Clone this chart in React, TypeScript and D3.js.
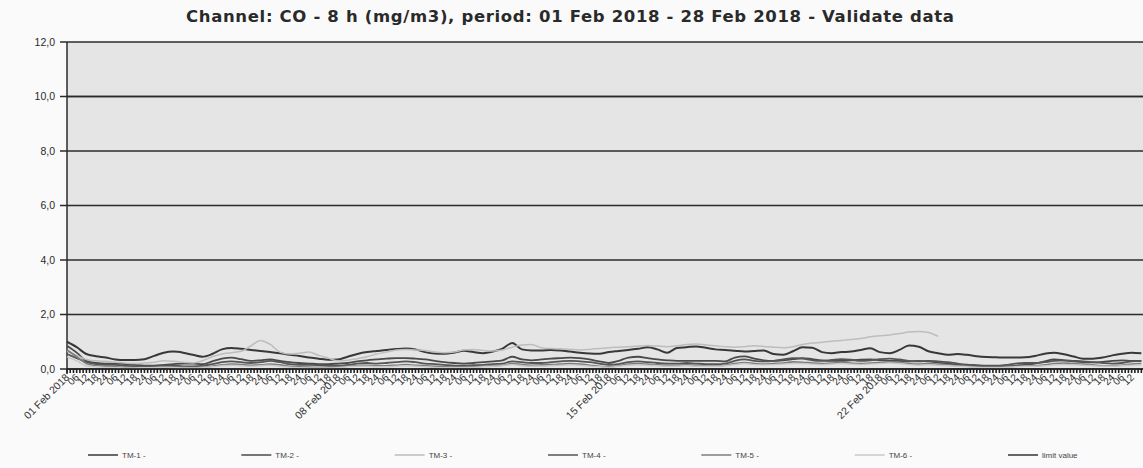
import React from "react";
import * as d3 from "d3";

// 8h rolling CO, one reading every 6 hours starting 01 Feb 2018 00:00
const START = new Date(2018, 1, 1, 0, 0);
const END = new Date(2018, 2, 1, 0, 0);
const STEP_HOURS = 6;

const TM1 = [
  1.0, 0.8, 0.55, 0.47, 0.42, 0.35, 0.33, 0.33, 0.36, 0.48, 0.6, 0.64, 0.6, 0.52, 0.45, 0.55,
  0.72, 0.77, 0.74, 0.7, 0.66, 0.62, 0.58, 0.52, 0.48, 0.42, 0.38, 0.34, 0.35, 0.45, 0.55, 0.62,
  0.66, 0.7, 0.73, 0.75, 0.72, 0.62, 0.57, 0.56, 0.6, 0.67, 0.62, 0.58, 0.64, 0.75, 0.95, 0.72,
  0.68, 0.68, 0.7, 0.68, 0.64, 0.6, 0.57, 0.56, 0.62, 0.66, 0.7, 0.74, 0.8, 0.72, 0.6, 0.77,
  0.8, 0.83, 0.78, 0.72, 0.7, 0.67, 0.64, 0.66, 0.68, 0.55, 0.52, 0.65, 0.8, 0.78, 0.62, 0.58,
  0.62, 0.64, 0.7, 0.76, 0.62, 0.58, 0.7, 0.86, 0.82, 0.65, 0.58, 0.52, 0.55, 0.52, 0.47, 0.44,
  0.43, 0.42, 0.42, 0.43, 0.48, 0.56, 0.6, 0.54, 0.46, 0.38, 0.38, 0.42, 0.5, 0.56, 0.6, 0.58,
];
const TM2 = [
  0.85, 0.6, 0.3, 0.22, 0.2, 0.2, 0.18, 0.15, 0.12, 0.12, 0.15, 0.18, 0.2, 0.2, 0.18, 0.28,
  0.38, 0.42, 0.36, 0.3, 0.32, 0.35, 0.3, 0.25, 0.22, 0.2, 0.18, 0.18, 0.2, 0.22, 0.28, 0.32,
  0.35, 0.38, 0.4, 0.4, 0.38, 0.35, 0.3, 0.25, 0.22, 0.2, 0.22, 0.25, 0.28, 0.32, 0.45, 0.35,
  0.32, 0.35, 0.38, 0.4, 0.42, 0.4, 0.35, 0.28, 0.22, 0.3, 0.42, 0.45, 0.4, 0.35, 0.32, 0.3,
  0.3, 0.3, 0.3, 0.3, 0.28, 0.42, 0.46, 0.38, 0.32, 0.3, 0.32, 0.36, 0.4, 0.36, 0.32, 0.3,
  0.3, 0.32, 0.34, 0.35, 0.32, 0.3, 0.3, 0.28, 0.3, 0.28, 0.24, 0.2, 0.15, 0.12, 0.1, 0.1,
  0.1, 0.1, 0.12, 0.15, 0.2, 0.28, 0.35, 0.32, 0.28, 0.25, 0.24, 0.26, 0.3, 0.32, 0.3, 0.3,
];
const TM3 = [
  0.65, 0.5, 0.35, 0.3, 0.28, 0.25, 0.22, 0.2, 0.22, 0.25, 0.3, 0.28, 0.25, 0.22, 0.3, 0.45,
  0.55, 0.6, 0.65, 0.85, 1.05, 0.9, 0.62, 0.55, 0.58, 0.62, 0.5, 0.4, 0.3, 0.32, 0.38, 0.45,
  0.55, 0.62, 0.7, 0.72, 0.7, 0.68, 0.62, 0.6, 0.62, 0.7, 0.72, 0.68, 0.66, 0.7, 0.8, 0.88,
  0.9, 0.78, 0.75, 0.74, 0.72, 0.7, 0.72, 0.75, 0.78, 0.8, 0.82, 0.84, 0.86, 0.84, 0.82, 0.85,
  0.9, 0.92, 0.88, 0.85, 0.82, 0.8, 0.82, 0.85, 0.83, 0.8, 0.78, 0.82, 0.9, 0.95, 0.98, 1.02,
  1.05, 1.08, 1.12, 1.18, 1.22, 1.25, 1.3, 1.36, 1.38, 1.34, 1.2, null, null, null, null, null,
  null, null, null, null, null, null, null, null, null, null, null, null, null, null, null, null,
];
const TM4 = [
  0.55, 0.4, 0.25, 0.18, 0.15, 0.15, 0.12, 0.1, 0.1, 0.1, 0.12, 0.12, 0.1, 0.1, 0.12, 0.18,
  0.25, 0.28, 0.25, 0.22, 0.25, 0.3, 0.25, 0.18, 0.15, 0.15, 0.14, 0.12, 0.12, 0.15, 0.2, 0.22,
  0.2, 0.22, 0.25, 0.28, 0.25, 0.2, 0.18, 0.15, 0.12, 0.12, 0.14, 0.15, 0.18, 0.2, 0.28, 0.25,
  0.22, 0.22, 0.25, 0.28, 0.3, 0.28, 0.25, 0.2, 0.15, 0.18, 0.25, 0.28, 0.25, 0.22, 0.2, 0.2,
  0.22, 0.2, 0.18, 0.18, 0.2, 0.3, 0.35, 0.3, 0.28, 0.3, 0.35, 0.4, 0.38, 0.32, 0.3, 0.33,
  0.36, 0.34, 0.3, 0.32, 0.36, 0.38, 0.35, 0.3, 0.28, 0.3, 0.28, 0.25, 0.2, 0.16, 0.14, 0.12,
  0.12, 0.15, 0.2, 0.22, 0.22, 0.25, 0.3, 0.32, 0.3, 0.28, 0.25, 0.22, 0.2, 0.22, 0.28, 0.3,
];
const TM5 = [
  0.7, 0.45, 0.2, 0.12, 0.1, 0.08, 0.06, 0.05, 0.05, 0.06, 0.08, 0.08, 0.06, 0.05, 0.06, 0.1,
  0.15, 0.18, 0.16, 0.14, 0.15, 0.18, 0.15, 0.1, 0.08, 0.07, 0.06, 0.06, 0.08, 0.1, 0.12, 0.14,
  0.12, 0.12, 0.14, 0.16, 0.14, 0.12, 0.1, 0.08, 0.07, 0.07, 0.08, 0.1, 0.12, 0.14, 0.2, 0.16,
  0.14, 0.15, 0.16, 0.18, 0.2, 0.18, 0.14, 0.1, 0.08, 0.12, 0.18, 0.2, 0.18, 0.15, 0.14, 0.14,
  0.15, 0.14, 0.12, 0.12, 0.14, 0.2, 0.24, 0.2, 0.18, 0.2, 0.22, 0.26, 0.25, 0.22, 0.2, 0.22,
  0.24, 0.22, 0.2, 0.22, 0.24, 0.26, 0.24, 0.2, 0.18, 0.2, 0.18, 0.15, 0.12, 0.1, 0.08, 0.07,
  0.07, 0.08, 0.1, 0.12, 0.12, 0.15, 0.2, 0.22, 0.2, 0.18, 0.15, 0.12, 0.12, 0.14, 0.18, 0.2,
];
const TM6 = [
  0.45, 0.3, 0.12, 0.08, 0.06, 0.05, 0.04, 0.04, 0.05, 0.05, 0.06, 0.05, 0.04, 0.04, 0.05, 0.08,
  0.12, 0.14, 0.12, 0.1, 0.12, 0.14, 0.1, 0.07, 0.05, 0.04, 0.04, 0.04, 0.05, 0.08, 0.1, 0.1,
  0.08, 0.08, 0.1, 0.12, 0.1, 0.08, 0.06, 0.05, 0.05, 0.05, 0.06, 0.08, 0.1, 0.12, 0.16, 0.12,
  0.1, 0.1, 0.12, 0.14, 0.15, 0.14, 0.1, 0.08, 0.06, 0.1, 0.14, 0.15, 0.14, 0.12, 0.1, 0.1,
  0.12, 0.1, 0.1, 0.1, 0.12, 0.16, 0.2, 0.16, 0.15, 0.16, 0.18, 0.2, 0.2, 0.18, 0.16, 0.18,
  0.2, 0.18, 0.16, 0.18, 0.2, 0.22, 0.2, 0.16, 0.14, 0.15, 0.14, 0.12, 0.1, 0.08, 0.06, 0.05,
  0.05, 0.06, 0.08, 0.1, 0.1, 0.12, 0.15, 0.16, 0.15, 0.14, 0.12, 0.1, 0.1, 0.12, 0.14, 0.15,
];
const LIMIT_VALUE = 10;

const SERIES_NAMES = ["TM-1", "TM-2", "TM-3", "TM-4", "TM-5", "TM-6"];
const SERIES_VALUES = [TM1, TM2, TM3, TM4, TM5, TM6];
const SERIES_COLORS = ["#383838", "#4a4a4a", "#bdbdbd", "#555555", "#7c7c7c", "#c8c8c8"];
const SERIES_WIDTHS = [2, 1.8, 1.5, 1.8, 1.6, 1.4];

const Y_TICKS = [0, 2, 4, 6, 8, 10, 12];
const WEEK_LABELS = ["01 Feb 2018", "08 Feb 2018", "15 Feb 2018", "22 Feb 2018"];
const HOUR_LABELS = ["06", "12", "18", "24"];

const TITLE = "Channel: CO - 8 h (mg/m3), period: 01 Feb 2018 - 28 Feb 2018 - Validate data";

const W = 1143;
const H = 468;
const M = { left: 67, top: 42, right: -8, bottom: 99 };

export default function App() {
  const x = d3.scaleTime().domain([START, END]).range([M.left, W - M.right]);
  const y = d3.scaleLinear().domain([0, 12]).range([H - M.bottom, M.top]);

  const line = d3
    .line<number | null>()
    .defined((d) => d != null)
    .x((_, i) => x(d3.timeHour.offset(START, i * STEP_HOURS)))
    .y((d) => y(d as number))
    .curve(d3.curveMonotoneX);

  const minorTicks = d3.timeHour.every(2)!.range(START, END);
  const weekTicks = d3.timeDay.every(7)!.range(START, d3.timeDay.offset(START, 28));
  const hourTicks = d3.timeHour
    .every(6)!
    .range(START, END)
    .filter((t) => !weekTicks.some((w) => +w === +t) && x(t) < W - 6);

  const fmtNum = (v: number) => v.toFixed(1).replace(".", ",");
  const legendX = d3.scaleLinear().domain([0, 6]).range([88, 1008]);

  return (
    <svg
      width={W}
      height={H}
      style={{ position: "absolute", left: 0, top: 0 }}
      fontFamily="Liberation Sans, Arial, sans-serif"
    >
      <rect width={W} height={H} fill="#fafafa" />
      <rect
        x={M.left}
        y={M.top}
        width={W - M.left - M.right}
        height={H - M.top - M.bottom}
        fill="#e5e5e5"
      />
      <text
        x={570}
        y={22}
        textAnchor="middle"
        fontFamily="DejaVu Sans, sans-serif"
        fontWeight="bold"
        fontSize={16.5}
        textLength={768}
        lengthAdjust="spacing"
        fill="#2a2a2a"
      >
        {TITLE}
      </text>

      {/* gridlines and y labels */}
      {Y_TICKS.map((t) => (
        <g key={t}>
          <line x1={60} x2={W} y1={y(t)} y2={y(t)} stroke="#2b2b2b" strokeWidth={1.5} />
          <text
            x={55}
            y={y(t)}
            dy="0.35em"
            textAnchor="end"
            fontSize={10.5}
            fill="#2a2a2a"
          >
            {fmtNum(t)}
          </text>
        </g>
      ))}
      <line x1={M.left} x2={M.left} y1={M.top} y2={y(0) + 5} stroke="#2b2b2b" strokeWidth={1.5} />

      {/* series */}
      {SERIES_VALUES.map((vals, k) => (
        <path
          key={SERIES_NAMES[k]}
          d={line(vals) ?? ""}
          fill="none"
          stroke={SERIES_COLORS[k]}
          strokeWidth={SERIES_WIDTHS[k]}
          strokeLinejoin="round"
        />
      ))}
      <line
        x1={M.left}
        x2={W}
        y1={y(LIMIT_VALUE)}
        y2={y(LIMIT_VALUE)}
        stroke="#2b2b2b"
        strokeWidth={1.5}
      />

      {/* x axis */}
      <line x1={M.left} x2={W} y1={y(0)} y2={y(0)} stroke="#222" strokeWidth={1.5} />
      {minorTicks.map((t) => (
        <line
          key={+t}
          x1={x(t)}
          x2={x(t)}
          y1={y(0)}
          y2={y(0) + 4}
          stroke="#222"
          strokeWidth={1.6}
        />
      ))}
      {hourTicks.map((t) => (
        <text
          key={+t}
          transform={`translate(${x(t) + 3},${y(0) + 9}) rotate(-45)`}
          textAnchor="end"
          fontSize={10}
          fill="#333"
        >
          {HOUR_LABELS[(t.getHours() / 6 + 3) % 4]}
        </text>
      ))}
      {weekTicks.map((t, i) => (
        <text
          key={+t}
          transform={`translate(${x(t) + 3},${y(0) + 9}) rotate(-45)`}
          textAnchor="end"
          fontSize={10.5}
          fill="#333"
        >
          {WEEK_LABELS[i]}
        </text>
      ))}

      {/* legend */}
      {[...SERIES_NAMES, "limit value"].map((name, k) => {
        const lx = legendX(k);
        const color = k < 6 ? SERIES_COLORS[k] : "#333";
        return (
          <g key={name}>
            <line x1={lx} x2={lx + 30} y1={455} y2={455} stroke={color} strokeWidth={1.5} />
            <text x={lx + 34} y={455} dy="0.35em" fontSize={8} fill="#444">
              {k < 6 ? `${name} -` : name}
            </text>
          </g>
        );
      })}
    </svg>
  );
}
